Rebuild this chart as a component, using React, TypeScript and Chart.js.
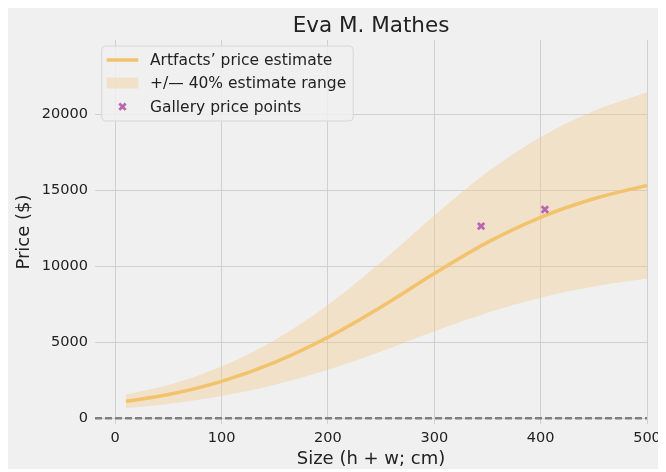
import { useEffect, useRef } from "react";
import { Chart, registerables } from "chart.js";

Chart.register(...registerables);

// ---- data ----
const chartTitle = "Eva M. Mathes";
const xAxisTitle = "Size (h + w; cm)";
const yAxisTitle = "Price ($)";

const sizes = [10, 50, 100, 150, 200, 250, 300, 350, 400, 450, 500];
const estimate = [1110, 1560, 2430, 3680, 5330, 7330, 9530, 11580, 13230, 14450, 15330];
const upperRange = [1554, 2184, 3402, 5152, 7462, 10262, 13342, 16212, 18522, 20230, 21462];
const lowerRange = [666, 936, 1458, 2208, 3198, 4398, 5718, 6948, 7938, 8670, 9198];

const galleryX = [344, 404];
const galleryY = [12650, 13740];

const zeroLineX = [-19, 500];
const zeroLineY = [0, 0];

const xTicks = [0, 100, 200, 300, 400, 500];
const yTicks = [0, 5000, 10000, 15000, 20000];

const legendLabels = [
  "Artfacts\u2019 price estimate",
  "+/\u2014 40% estimate range",
  "Gallery price points",
];

// ---- styles ----
const FONT = "'DejaVu Sans', 'Liberation Sans', sans-serif";
const BG = "#f0f0f0";
const LINE_COLOR = "#f2c26c";
const BAND_COLOR = "rgba(240, 200, 130, 0.36)";
const POINT_COLOR = "#b966b2";
const GRID_COLOR = "#d0d0d0";
const TEXT_COLOR = "#222222";

const W = 655;
const H = 461;

function drawX(ctx: CanvasRenderingContext2D, x: number, y: number, r: number, lw: number, color: string) {
  const d = r * Math.SQRT1_2;
  ctx.save();
  ctx.strokeStyle = color;
  ctx.lineWidth = lw;
  ctx.beginPath();
  ctx.moveTo(x - d, y - d);
  ctx.lineTo(x + d, y + d);
  ctx.moveTo(x - d, y + d);
  ctx.lineTo(x + d, y - d);
  ctx.stroke();
  ctx.restore();
}

const overlayPlugin = {
  id: "overlay",
  afterDraw(chart: any) {
    const ctx: CanvasRenderingContext2D = chart.ctx;
    const area = chart.chartArea;
    // title
    ctx.save();
    ctx.fillStyle = "#222";
    ctx.font = `21.5px ${FONT}`;
    ctx.textAlign = "center";
    ctx.textBaseline = "alphabetic";
    ctx.fillText(chartTitle, (area.left + area.right) / 2, 24);
    ctx.restore();

    // legend
    const bx = 93.7, by = 38, bw = 251.5, bh = 75, rad = 4;
    ctx.save();
    ctx.beginPath();
    ctx.moveTo(bx + rad, by);
    ctx.lineTo(bx + bw - rad, by);
    ctx.quadraticCurveTo(bx + bw, by, bx + bw, by + rad);
    ctx.lineTo(bx + bw, by + bh - rad);
    ctx.quadraticCurveTo(bx + bw, by + bh, bx + bw - rad, by + bh);
    ctx.lineTo(bx + rad, by + bh);
    ctx.quadraticCurveTo(bx, by + bh, bx, by + bh - rad);
    ctx.lineTo(bx, by + rad);
    ctx.quadraticCurveTo(bx, by, bx + rad, by);
    ctx.closePath();
    ctx.fillStyle = "rgba(240,240,240,0.85)";
    ctx.fill();
    ctx.strokeStyle = "#d6d6d6";
    ctx.lineWidth = 1;
    ctx.stroke();

    const rows = [52, 75, 98.7];
    const sx0 = 98.7, sx1 = 130.3;
    // line swatch
    ctx.strokeStyle = LINE_COLOR;
    ctx.lineWidth = 3.5;
    ctx.beginPath();
    ctx.moveTo(sx0, rows[0]);
    ctx.lineTo(sx1, rows[0]);
    ctx.stroke();
    // band swatch
    ctx.fillStyle = BAND_COLOR;
    ctx.fillRect(sx0, rows[1] - 5.5, sx1 - sx0, 11);
    // marker swatch
    drawX(ctx, (sx0 + sx1) / 2, rows[2], 4.5, 2.8, POINT_COLOR);

    ctx.fillStyle = TEXT_COLOR;
    ctx.font = `15.5px ${FONT}`;
    ctx.textAlign = "left";
    ctx.textBaseline = "middle";
    legendLabels.forEach((t, i) => ctx.fillText(t, 142, rows[i] + 1));
    ctx.restore();
  },
};

export default function App() {
  const ref = useRef<HTMLCanvasElement | null>(null);

  useEffect(() => {
    if (!ref.current) return;
    const toXY = (xs: number[], ys: number[]) => xs.map((x, i) => ({ x, y: ys[i] }));

    const chart = new Chart(ref.current, {
      type: "line",
      data: {
        datasets: [
          {
            type: "scatter",
            label: legendLabels[2],
            data: toXY(galleryX, galleryY),
            pointStyle: "crossRot",
            pointRadius: 4.5,
            pointBorderWidth: 2.8,
            borderColor: POINT_COLOR,
            backgroundColor: POINT_COLOR,
            showLine: false,
          } as any,
          {
            label: legendLabels[0],
            data: toXY(sizes, estimate),
            borderColor: LINE_COLOR,
            borderWidth: 3.5,
            pointRadius: 0,
            cubicInterpolationMode: "monotone",
            fill: false,
          },
          {
            label: legendLabels[1],
            data: toXY(sizes, upperRange),
            borderWidth: 0,
            borderColor: "rgba(0,0,0,0)",
            backgroundColor: BAND_COLOR,
            pointRadius: 0,
            cubicInterpolationMode: "monotone",
            fill: "+1",
          },
          {
            label: "lower",
            data: toXY(sizes, lowerRange),
            borderWidth: 0,
            borderColor: "rgba(0,0,0,0)",
            pointRadius: 0,
            cubicInterpolationMode: "monotone",
            fill: false,
          },
          {
            label: "zero",
            data: toXY(zeroLineX, zeroLineY),
            borderColor: "#808080",
            borderWidth: 2.3,
            borderDash: [7, 3],
            pointRadius: 0,
            fill: false,
          },
        ],
      },
      options: {
        animation: false,
        responsive: false,
        devicePixelRatio: 1,
        layout: { padding: { top: 32, right: 16, left: 0, bottom: 0 } },
        plugins: {
          legend: { display: false },
          tooltip: { enabled: false },
          title: { display: false },
        },
        scales: {
          x: {
            type: "linear",
            min: -19,
            max: 500,
            afterBuildTicks: (s: any) => {
              s.ticks = xTicks.map((v) => ({ value: v }));
            },
            afterFit: (s: any) => {
              s.height = 45;
              s.paddingLeft = 0;
              s.paddingRight = 0;
            },
            grid: { color: GRID_COLOR, lineWidth: 1, drawTicks: false },
            border: { display: false },
            ticks: {
              padding: 6,
              color: TEXT_COLOR,
              font: { family: FONT, size: 14.5 },
              maxRotation: 0,
              callback: (v: any) => String(v),
            },
            title: {
              display: true,
              text: xAxisTitle,
              color: TEXT_COLOR,
              font: { family: FONT, size: 18 },
              padding: { top: 0, bottom: -1 },
            },
          },
          y: {
            type: "linear",
            min: -380,
            max: 24900,
            afterBuildTicks: (s: any) => {
              s.ticks = yTicks.map((v) => ({ value: v }));
            },
            afterFit: (s: any) => {
              s.width = 87;
              s.paddingTop = 0;
              s.paddingBottom = 0;
            },
            grid: { color: GRID_COLOR, lineWidth: 1, drawTicks: false },
            border: { display: false },
            ticks: {
              padding: 7,
              color: TEXT_COLOR,
              font: { family: FONT, size: 14.5 },
              callback: (v: any) => String(v),
            },
            title: {
              display: true,
              text: yAxisTitle,
              color: TEXT_COLOR,
              font: { family: FONT, size: 18 },
              padding: { top: 6, bottom: 0 },
            },
          },
        },
      },
      plugins: [overlayPlugin],
    });
    return () => chart.destroy();
  }, []);

  return (
    <div style={{ width: W, height: H, background: BG }}>
      <canvas ref={ref} width={W} height={H} style={{ display: "block" }} />
    </div>
  );
}
